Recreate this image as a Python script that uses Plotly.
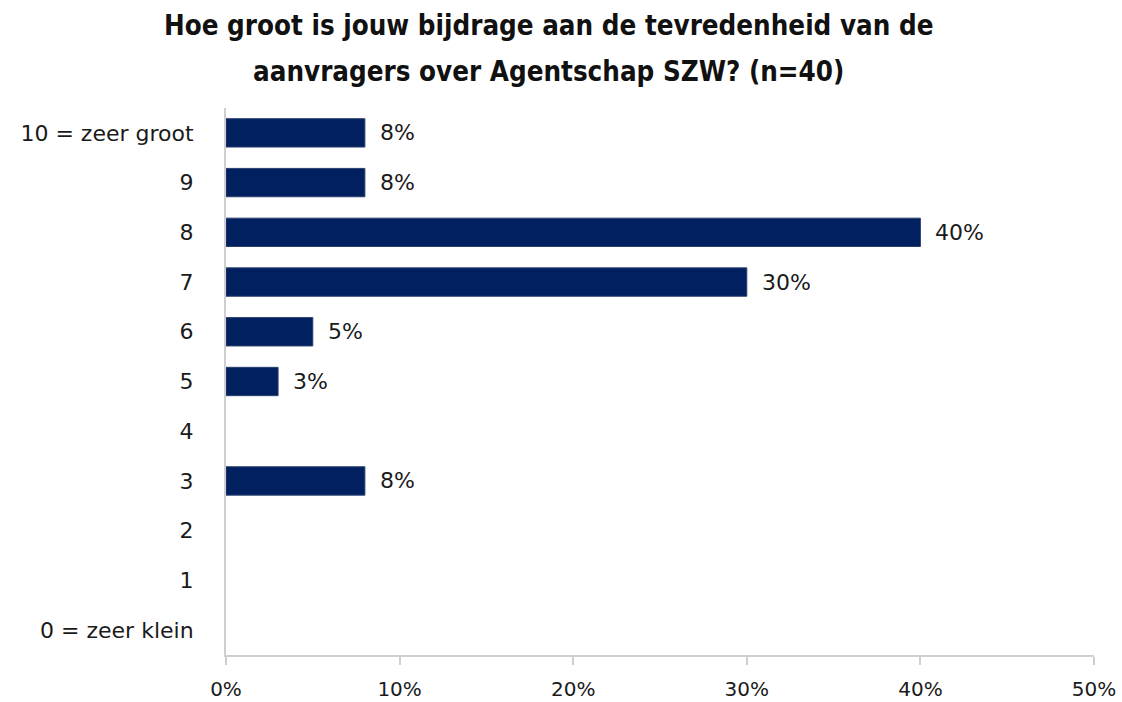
import plotly.graph_objects as go

# Answer scale (top to bottom as drawn) and share of respondents in percent
categories = ["10 = zeer groot", "9", "8", "7", "6", "5", "4", "3", "2", "1", "0 = zeer klein"]
shares = [8, 8, 40, 30, 5, 3, None, 8, None, None, None]
x_ticks = [0, 10, 20, 30, 40, 50]
x_tick_labels = ["0%", "10%", "20%", "30%", "40%", "50%"]

title_lines = [
    "Hoe groot is jouw bijdrage aan de tevredenheid van de",
    "aanvragers over Agentschap SZW? (n=40)",
]

BAR = "#002060"
AXIS = "#cfcfcf"
TEXT = "#1a1a1a"
FONT = "DejaVu Sans"
TITLE_FONT = "DejaVu Sans Condensed, Liberation Sans, sans-serif"

fig = go.Figure()
fig.add_trace(go.Bar(
    x=shares,
    y=categories,
    orientation="h",
    marker=dict(color=BAR, line=dict(color="#2a3f6e", width=1)),
    hoverinfo="skip",
))

# value labels just to the right of each bar
for cat, val in zip(categories, shares):
    if val is None:
        continue
    fig.add_annotation(
        x=val, y=cat, xref="x", yref="y",
        text=f"{val}%", showarrow=False,
        xanchor="left", yanchor="middle", xshift=13,
        font=dict(family=FONT, size=22, color=TEXT),
    )

# two-line bold title
for line, ypos in zip(title_lines, [1.152, 1.068]):
    fig.add_annotation(
        x=0.371, y=ypos, xref="paper", yref="paper",
        text=f"<b>{line}</b>", showarrow=False,
        xanchor="center", yanchor="middle",
        font=dict(family=TITLE_FONT, size=27.5, color="#111111"),
    )

fig.update_layout(
    width=1122, height=702,
    margin=dict(l=226, r=28, t=108, b=47, autoexpand=False),
    paper_bgcolor="white", plot_bgcolor="white",
    bargap=0.43,
    showlegend=False,
    font=dict(family=FONT, size=20, color=TEXT),
)
fig.update_xaxes(
    range=[0, 50],
    tickvals=x_ticks, ticktext=x_tick_labels,
    showgrid=False, zeroline=False,
    showline=True, linecolor=AXIS, linewidth=2,
    ticks="outside", ticklen=8, tickcolor=AXIS, tickwidth=2,
    ticklabelstandoff=7, ticklabeloverflow="allow",
    automargin=False,
    tickfont=dict(family=FONT, size=20, color=TEXT),
)
fig.update_yaxes(
    categoryorder="array", categoryarray=categories[::-1],
    range=[-0.5, 10.5],
    showgrid=False, zeroline=False,
    showline=True, linecolor=AXIS, linewidth=2,
    ticks="", ticklabelstandoff=26,
    automargin=False,
    tickfont=dict(family=FONT, size=22, color=TEXT),
)

fig.write_html("out.html")
